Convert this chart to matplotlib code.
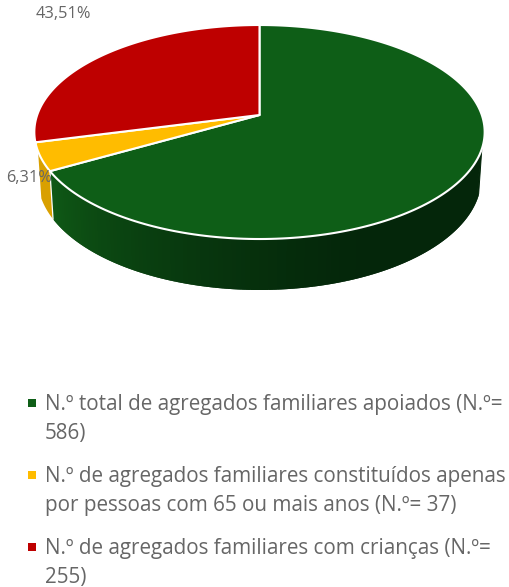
import numpy as np
import matplotlib
matplotlib.use("Agg")
import matplotlib.pyplot as plt
from matplotlib.collections import PolyCollection

# ---- data ----
categories = ["total", "65+", "criancas"]
counts = [586, 37, 255]
slice_colors = ["#0E5E17", "#FFBC00", "#BE0000"]
pct_labels = ["43,51%", "6,31%"]
legend_lines = [
    ["N.º total de agregados familiares apoiados (N.º=", "586)"],
    ["N.º de agregados familiares constituídos apenas", "por pessoas com 65 ou mais anos (N.º= 37)"],
    ["N.º de agregados familiares com crianças (N.º=", "255)"],
]

TXT = "#666666"
FONT = "Open Sans"
fig = plt.figure(figsize=(5.09, 5.87), dpi=100)
ax = fig.add_axes([0, 0, 1, 1])
ax.set_xlim(0, 509)
ax.set_ylim(587, 0)
ax.axis("off")

CX, CY, K = 259.5, 115.0, 0.159


def proj(theta_deg, rx, ry, dy=0.0):
    t = np.radians(theta_deg)
    u, v = np.sin(t), -np.cos(t)
    s = 1 / (1 - K * v)
    return np.column_stack([CX + rx * u * s, CY + dy + ry * v * s])


def top(t):
    return proj(t, 222.3, 104.3)


def low(t):
    return proj(t, 219.0, 108.9, 45.5)


fractions = np.array(counts) / sum(counts)
edges = np.concatenate([[0], np.cumsum(fractions) * 360])


def rgb(h):
    return np.array(matplotlib.colors.to_rgb(h))


def green_shade(t):
    light = rgb("#0F5A16")
    dark = rgb("#04260A")
    f = np.clip((t - 155) / (edges[1] - 155), 0, 1)
    return tuple(dark + (light - dark) * f ** 1.4)


# side wall: green, strips overlap so no seams show
polys, cols = [], []
ts = np.arange(107.0, edges[1], 1.0)
for a in ts:
    seg = np.linspace(a, min(a + 2.0, edges[1]), 3)
    polys.append(np.vstack([top(seg), low(seg)[::-1]]))
    cols.append(green_shade(a + 0.5))
ax.add_collection(PolyCollection(polys, facecolors=cols, edgecolors="none", zorder=1))

# side wall: yellow
ty = np.linspace(edges[1], 250.7, 20)
ax.fill(*np.vstack([top(ty), low(ty)[::-1]]).T, color="#D9A000", lw=0, zorder=0.9)
ax.plot(*np.vstack([top(edges[1:2]), low(edges[1:2])]).T, color="white", lw=0.9, zorder=1.5)

# top faces
apex = np.array([[CX, CY]])
for i, c in enumerate(slice_colors):
    arc = top(np.linspace(edges[i], edges[i + 1], 200))
    poly = np.vstack([apex, arc])
    ax.fill(poly[:, 0], poly[:, 1], facecolor=c, edgecolor="white", lw=1.5, joinstyle="round", zorder=2)

# labels
ax.text(63.5, 14, pct_labels[0], color=TXT, family=FONT, fontsize=11.8, ha="center", va="center", zorder=5)
ax.text(29.5, 178, pct_labels[1], color=TXT, family=FONT, fontsize=11.8, ha="center", va="center", zorder=5)

# legend
baselines = [[410, 439], [482, 511], [554, 583]]
marker_y = [402.5, 474.5, 547]
for lines, ys, my, c in zip(legend_lines, baselines, marker_y, slice_colors):
    ax.scatter([32], [my], marker="s", s=30, color=c, lw=0, zorder=5)
    for s, y in zip(lines, ys):
        ax.text(45, y, s, color=TXT, family=FONT, fontsize=14.9, ha="left", va="baseline")

fig.savefig("out.png", dpi=100)
